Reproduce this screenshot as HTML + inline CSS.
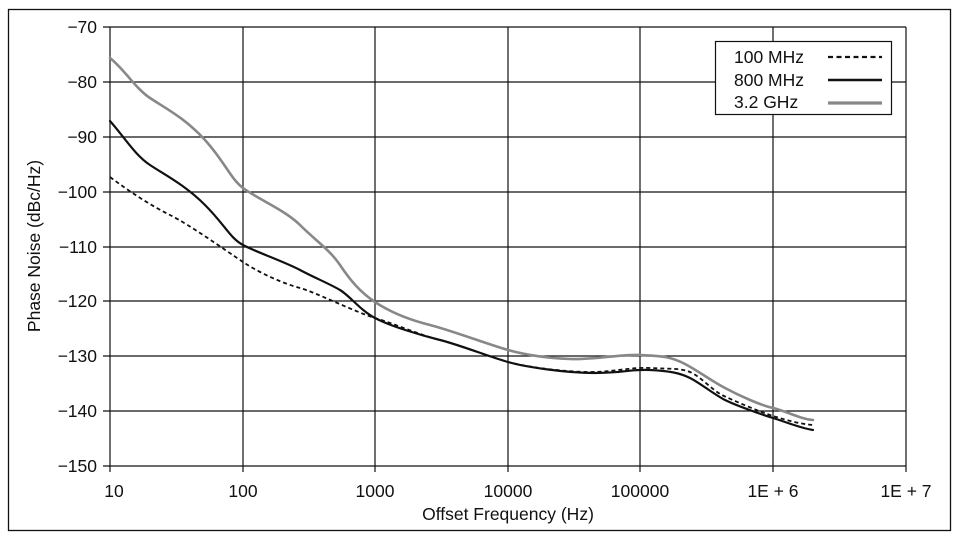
<!DOCTYPE html><html><head><style>body{margin:0;background:#fff}svg{display:block}text{font-family:"Liberation Sans",Arial,sans-serif;fill:#111}</style></head><body>
<svg width="956" height="537" viewBox="0 0 956 537">
<rect x="8.5" y="9.5" width="942" height="521" fill="none" stroke="#111" stroke-width="1.3"/>
<g stroke="#111" stroke-width="1.2">
<line x1="103" y1="27" x2="906" y2="27"/><line x1="103" y1="82" x2="906" y2="82"/><line x1="103" y1="137" x2="906" y2="137"/><line x1="103" y1="192" x2="906" y2="192"/><line x1="103" y1="247" x2="906" y2="247"/><line x1="103" y1="301" x2="906" y2="301"/><line x1="103" y1="356" x2="906" y2="356"/><line x1="103" y1="411" x2="906" y2="411"/><line x1="103" y1="466" x2="906" y2="466"/>
<line x1="110" y1="27" x2="110" y2="472"/><line x1="243" y1="27" x2="243" y2="472"/><line x1="375" y1="27" x2="375" y2="472"/><line x1="508" y1="27" x2="508" y2="472"/><line x1="640" y1="27" x2="640" y2="472"/><line x1="773" y1="27" x2="773" y2="472"/><line x1="906" y1="27" x2="906" y2="472"/>
</g>
<g font-size="17.5" text-anchor="end"><text x="97" y="33">−70</text><text x="97" y="88">−80</text><text x="97" y="143">−90</text><text x="97" y="198">−100</text><text x="97" y="253">−110</text><text x="97" y="307">−120</text><text x="97" y="362">−130</text><text x="97" y="417">−140</text><text x="97" y="472">−150</text></g>
<g font-size="17.5" text-anchor="middle"><text x="114" y="497">10</text><text x="243" y="497">100</text><text x="375" y="497">1000</text><text x="508" y="497">10000</text><text x="640" y="497">100000</text><text x="773" y="497">1E + 6</text><text x="906" y="497">1E + 7</text>
<text x="508" y="520">Offset Frequency (Hz)</text>
<text transform="translate(40,246) rotate(-90)">Phase Noise (dBc/Hz)</text></g>
<g fill="none" stroke-linejoin="round" stroke-linecap="round">
<path d="M110,58 C125,70 135,88 150,98 S185,118 205,140 S230,178 243,188 S285,210 300,225 S330,250 340,265 S360,292 375,302 S410,320 430,325 S490,345 508,350 S545,358 570,359 S620,354 640,355 S670,356 685,364 S710,380 725,388 S760,405 773,408 S800,419 813,420" stroke="#888" stroke-width="2.6"/>
<path d="M110,121 C125,138 135,155 150,165 S185,185 205,205 S230,238 243,245 S285,262 300,270 S330,284 340,290 S360,310 375,318 S420,335 440,340 S490,357 508,362 S565,373 595,373 S630,369 650,370 S680,373 690,378 S715,395 725,400 S760,414 773,418 S800,428 813,430" stroke="#111" stroke-width="2.2"/>
<path d="M110,177 C130,192 150,205 170,215 S225,250 243,262 S285,284 300,288 S355,312 375,318 S420,335 440,340 S490,357 508,362 S565,372 590,372 S630,367 650,368 S680,368 690,372 S712,390 722,395 S760,412 773,416 S800,424 813,425" stroke="#111" stroke-width="1.8" stroke-dasharray="4,3" stroke-linecap="butt"/>
</g>
<rect x="715.5" y="41.5" width="176" height="73" fill="#fff" stroke="#111" stroke-width="1.2"/>
<g font-size="17.5"><text x="734" y="63">100 MHz</text><text x="734" y="86">800 MHz</text><text x="734" y="108">3.2 GHz</text></g>
<line x1="828" y1="57" x2="882" y2="57" stroke="#111" stroke-width="2.2" stroke-dasharray="5,3.5"/>
<line x1="828" y1="80" x2="882" y2="80" stroke="#111" stroke-width="2.6"/>
<line x1="828" y1="103" x2="882" y2="103" stroke="#888" stroke-width="3.2"/>
</svg></body></html>
